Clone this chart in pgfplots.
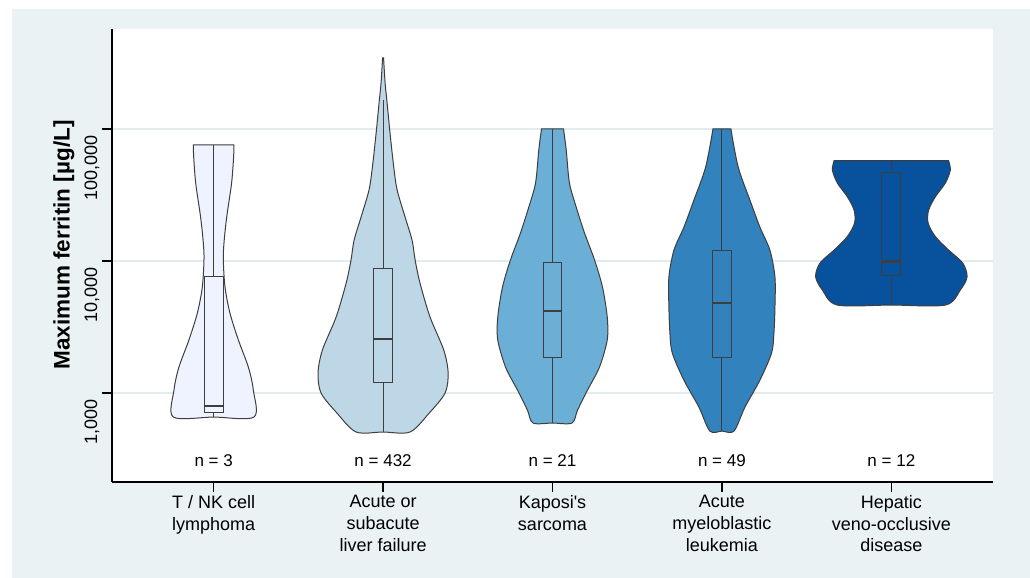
\documentclass[border=0pt]{standalone}
\usepackage{fontspec}
\setmainfont{Liberation Sans}
\usepackage{pgfplots}
\usepackage{pgfplotstable}
\pgfplotsset{compat=1.18}
\definecolor{bgc}{RGB}{234,242,243}
\definecolor{gridc}{RGB}{224,236,237}
\definecolor{linec}{RGB}{62,62,62}
\definecolor{cA}{HTML}{EFF3FF}
\definecolor{cB}{HTML}{BDD7E7}
\definecolor{cC}{HTML}{6BAED6}
\definecolor{cD}{HTML}{3182BD}
\definecolor{cE}{HTML}{08519C}

% violin outlines: o = signed half-width (axis units), v = ferritin (ug/L)
\pgfplotstableread{
o v
0.120 75700
0.118 62000
0.106 39000
0.077 21500
0.061 13700
0.057 10200
0.067 6350
0.096 4040
0.146 2520
0.205 1570
0.234 1055
0.238 658
0 658
-0.238 658
-0.234 1055
-0.205 1570
-0.146 2520
-0.096 4040
-0.067 6350
-0.057 10200
-0.061 13700
-0.077 21500
-0.106 39000
-0.118 62000
-0.120 75700
}\vA
\pgfplotstableread{
o v
0.003 345000
0.007 280000
0.013 215000
0.022 166000
0.041 93300
0.063 51500
0.083 34500
0.130 21500
0.171 14400
0.189 10200
0.218 6800
0.277 3770
0.358 2120
0.384 1420
0.366 1000
0.272 705
0.159 507
0 507
-0.159 507
-0.272 705
-0.366 1000
-0.384 1420
-0.358 2120
-0.277 3770
-0.218 6800
-0.189 10200
-0.171 14400
-0.130 21500
-0.083 34500
-0.063 51500
-0.041 93300
-0.022 166000
-0.013 215000
-0.007 280000
-0.003 345000
}\vB
\pgfplotstableread{
o v
0.065 100000
0.081 69300
0.100 39000
0.140 25600
0.189 16300
0.248 10200
0.295 6350
0.323 3770
0.323 2520
0.277 1570
0.207 1055
0.148 743
0.115 593
0 593
-0.115 593
-0.148 743
-0.207 1055
-0.277 1570
-0.323 2520
-0.323 3770
-0.295 6350
-0.248 10200
-0.189 16300
-0.140 25600
-0.100 39000
-0.081 69300
-0.065 100000
}\vC
\pgfplotstableread{
o v
0.053 100000
0.096 51500
0.165 29000
0.224 18100
0.283 12100
0.313 7570
0.313 4490
0.307 2850
0.293 2010
0.224 1250
0.136 783
0.071 515
0 515
-0.071 515
-0.136 783
-0.224 1250
-0.293 2010
-0.307 2850
-0.313 4490
-0.313 7570
-0.283 12100
-0.224 18100
-0.165 29000
-0.096 51500
-0.053 100000
}\vD
\pgfplotstableread{
o v
0.338 57500
0.348 48900
0.319 39000
0.260 30700
0.220 24300
0.217 19400
0.260 15300
0.338 12100
0.421 9660
0.447 7600
0.407 6030
0.319 4640
0 4640
-0.319 4640
-0.407 6030
-0.447 7600
-0.421 9660
-0.338 12100
-0.260 15300
-0.217 19400
-0.220 24300
-0.260 30700
-0.319 39000
-0.348 48900
-0.338 57500
}\vE

\begin{document}
\begin{tikzpicture}
\useasboundingbox (-112bp,-96bp) rectangle (918bp,482bp);
\fill[white] (-112bp,-96bp) rectangle (918bp,482bp);
\fill[bgc] (-100bp,-96bp) rectangle (918bp,473bp);
\begin{axis}[
  at={(0,0)}, anchor=south west,
  scale only axis, width=881bp, height=453bp,
  xmin=0.4, xmax=5.6,
  ymode=log, ymin=212, ymax=572000,
  axis x line*=bottom, axis y line*=left,
  axis line style={line width=1.6bp, black},
  xtick={1,2,3,4,5},
  xticklabels={{T / NK cell\\lymphoma},{Acute or\\subacute\\liver failure},{Kaposi\textquotesingle s\\sarcoma},{Acute\\myeloblastic\\leukemia},{Hepatic\\veno-occlusive\\disease}},
  xticklabel style={align=center, anchor=north, font=\fontsize{18bp}{21.7bp}\selectfont},
  ytick={1000,10000,100000},
  yticklabels={{1,000},{10,000},{100,000}},
  yminorticks=false, xminorticks=false,
  yticklabel style={rotate=90, anchor=south east, xshift=-3bp, yshift=-1bp, font=\fontsize{18bp}{21bp}\selectfont},
  tick align=outside, major tick length=10bp,
  tick style={line width=1.3bp, black},
  ymajorgrids, y grid style={gridc, line width=1.3bp},
  axis background/.style={fill=white},
  ylabel={Maximum ferritin [µg/L]},
  ylabel style={font=\bfseries\fontsize{22.5bp}{27bp}\selectfont, at={(axis description cs:-0.0545,0.523)}, anchor=center},
  clip=false,
]
% violins
\addplot[smooth, tension=0.5, fill=cA, draw=linec, line width=1bp] table[x expr=1+\thisrow{o}, y=v] {\vA} -- cycle;
\addplot[smooth, tension=0.5, fill=cB, draw=linec, line width=1bp] table[x expr=2+\thisrow{o}, y=v] {\vB} -- cycle;
\addplot[smooth, tension=0.5, fill=cC, draw=linec, line width=1bp] table[x expr=3+\thisrow{o}, y=v] {\vC} -- cycle;
\addplot[smooth, tension=0.5, fill=cD, draw=linec, line width=1bp] table[x expr=4+\thisrow{o}, y=v] {\vD} -- cycle;
\addplot[smooth, tension=0.5, fill=cE, draw=linec, line width=1bp] table[x expr=5+\thisrow{o}, y=v] {\vE} -- cycle;
% whiskers
\addplot[linec, line width=1bp] coordinates {(1,658) (1,75700)};
\addplot[linec, line width=1bp] coordinates {(2,507) (2,166000)};
\addplot[linec, line width=1bp] coordinates {(3,593) (3,100000)};
\addplot[linec, line width=1bp] coordinates {(4,515) (4,100000)};
\addplot[linec, line width=1bp] coordinates {(5,4640) (5,57500)};
% boxes (q1, q3)
\addplot[fill=cA, draw=linec, line width=1bp] coordinates {(0.944,718) (1.056,718) (1.056,7690) (0.944,7690)} -- cycle;
\addplot[fill=cB, draw=linec, line width=1bp] coordinates {(1.944,1210) (2.056,1210) (2.056,8850) (1.944,8850)} -- cycle;
\addplot[fill=cC, draw=linec, line width=1bp] coordinates {(2.944,1850) (3.056,1850) (3.056,9700) (2.944,9700)} -- cycle;
\addplot[fill=cD, draw=linec, line width=1bp] coordinates {(3.944,1850) (4.056,1850) (4.056,12100) (3.944,12100)} -- cycle;
\addplot[fill=cE, draw=linec, line width=1bp] coordinates {(4.944,7830) (5.056,7830) (5.056,47000) (4.944,47000)} -- cycle;
% medians
\addplot[linec, line width=2.4bp] coordinates {(0.944,798) (1.056,798)};
\addplot[linec, line width=2.4bp] coordinates {(1.944,2570) (2.056,2570)};
\addplot[linec, line width=2.4bp] coordinates {(2.944,4180) (3.056,4180)};
\addplot[linec, line width=2.4bp] coordinates {(3.944,4790) (4.056,4790)};
\addplot[linec, line width=2.4bp] coordinates {(4.944,9890) (5.056,9890)};
% counts
\foreach \p/\n in {1/3,2/432,3/21,4/49,5/12}{
  \edef\tmp{\noexpand\node[anchor=base, font=\noexpand\fontsize{17bp}{20bp}\noexpand\selectfont] at (axis cs:\p,280) {n = \n};}
  \tmp
}
\end{axis}
\end{tikzpicture}
\end{document}
